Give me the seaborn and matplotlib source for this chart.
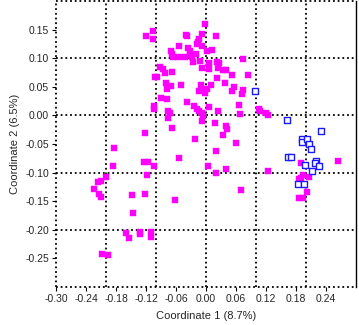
import numpy as np
import pandas as pd
import matplotlib
matplotlib.use("Agg")
import matplotlib.pyplot as plt
import seaborn as sns

# Group 1 (filled magenta squares)
x_pink = [-0.120, -0.106, -0.106, -0.092, -0.086, -0.082, -0.068, -0.102, -0.098, -0.080,
          -0.070, -0.078, -0.050, -0.090, -0.078, -0.104, -0.104, -0.076, -0.072, -0.076,
          -0.068, -0.122, -0.184, -0.054, -0.038, -0.070, -0.068, -0.066, -0.054, -0.054,
          -0.042, -0.040, -0.038, -0.036, -0.032, -0.032, -0.028, -0.026, -0.018, -0.020,
          -0.014, -0.016, -0.008, -0.008, -0.002, -0.012, 0.002, 0.006, 0.012, 0.020,
          0.022, 0.026, 0.074, -0.008, 0.006, 0.024, 0.034, 0.040, 0.052, 0.084,
          0.022, 0.038, 0.010, 0.002, -0.004, -0.010, -0.002, -0.014, 0.056, 0.052,
          0.074, 0.072, 0.006, 0.066, 0.024, 0.068, 0.106, 0.108, 0.120, 0.124,
          -0.024, -0.018, -0.014, -0.008, -0.006, -0.008, 0.018, 0.040, 0.042, 0.034,
          -0.022, 0.060, 0.020, -0.186, -0.124, -0.116, -0.104, -0.118, -0.200, -0.210,
          -0.216, -0.224, -0.214, -0.210, -0.148, -0.122, -0.062, -0.146, -0.160, -0.154,
          -0.132, -0.132, -0.110, -0.110, -0.208, -0.196, 0.004, 0.020, 0.040, 0.124,
          0.070, 0.190, 0.264, 0.194, 0.206, 0.186, 0.190, 0.202, 0.186, 0.194]
y_pink = [0.138, 0.147, 0.133, 0.085, 0.081, 0.074, 0.076, 0.067, 0.067, 0.056,
          0.051, 0.046, 0.053, 0.031, 0.028, 0.017, 0.012, 0.008, 0.005, -0.004,
          -0.022, -0.031, -0.057, -0.075, 0.024, 0.113, 0.108, 0.102, 0.122, 0.102,
          0.102, 0.140, 0.138, 0.117, 0.113, 0.106, 0.102, 0.094, 0.124, 0.108,
          0.134, 0.129, 0.142, 0.122, 0.159, 0.095, 0.113, 0.092, 0.115, 0.138,
          0.094, 0.092, 0.099, 0.083, 0.081, 0.083, 0.079, 0.079, 0.071, 0.071,
          0.065, 0.056, 0.053, 0.047, 0.046, 0.053, 0.039, 0.042, 0.049, 0.042,
          0.044, 0.037, 0.014, 0.019, 0.008, 0.003, 0.012, 0.007, 0.005, 0.001,
          0.017, 0.012, 0.008, 0.005, -0.001, -0.009, -0.013, -0.018, -0.024, -0.034,
          -0.041, -0.048, -0.063, -0.088, -0.082, -0.082, -0.088, -0.105, -0.107, -0.114,
          -0.116, -0.128, -0.137, -0.143, -0.139, -0.137, -0.148, -0.171, -0.205, -0.215,
          -0.203, -0.208, -0.203, -0.212, -0.242, -0.244, -0.088, -0.100, -0.093, -0.098,
          -0.130, -0.084, -0.079, -0.104, -0.107, -0.112, -0.109, -0.134, -0.144, -0.144]

# Group 2 (open blue squares)
x_blue = [0.098, 0.162, 0.230, 0.192, 0.192, 0.202, 0.206, 0.210, 0.164, 0.170,
          0.220, 0.218, 0.226, 0.198, 0.212, 0.184, 0.196]
y_blue = [0.042, -0.008, -0.027, -0.041, -0.047, -0.041, -0.050, -0.059, -0.073, -0.072,
          -0.079, -0.084, -0.088, -0.086, -0.098, -0.120, -0.120]

x_ticks = [-0.30, -0.24, -0.18, -0.12, -0.06, 0.00, 0.06, 0.12, 0.18, 0.24]
y_ticks = [-0.25, -0.20, -0.15, -0.10, -0.05, 0.00, 0.05, 0.10, 0.15]
grid_x = [-0.3, -0.2, -0.1, 0.0, 0.1, 0.2]
grid_y = [-0.3, -0.2, -0.1, 0.0, 0.1, 0.2]

df_pink = pd.DataFrame({"x": x_pink, "y": y_pink})
df_blue = pd.DataFrame({"x": x_blue, "y": y_blue})

sns.set_style("white")
plt.rcParams['font.family'] = ['Liberation Sans', 'DejaVu Sans']

fig = plt.figure(figsize=(3.59, 3.25), dpi=100)
ax = fig.add_axes([56/359, 38/325, 300/359, 286/325])

# dotted grid (edges included, so not clipped)
for gx in grid_x:
    ax.axvline(gx, color='black', lw=1.3, ls=(0, (1, 1.6)), zorder=1, clip_on=False)
for gy in grid_y:
    ax.axhline(gy, color='black', lw=1.3, ls=(0, (1, 1.6)), zorder=1, clip_on=False)

sns.scatterplot(data=df_pink, x="x", y="y", marker='s', s=16, color='#ff00ff',
                edgecolor='#ff00ff', linewidth=0.3, ax=ax, zorder=3)
sns.scatterplot(data=df_blue, x="x", y="y", marker='s', s=18, facecolor='white',
                edgecolor='#1a1aff', linewidth=1.0, ax=ax, zorder=4)

ax.set_xlim(-0.30, 0.30)
ax.set_ylim(-0.30, 0.20)
ax.set_xticks(x_ticks)
ax.set_xticklabels([f"{v:.2f}" for v in x_ticks])
ax.set_yticks(y_ticks)
ax.set_yticklabels([f"{v:.2f}" for v in y_ticks])
ax.tick_params(axis='both', direction='out', length=3, width=0.8, color='black',
               labelsize=7.5, pad=2, bottom=True, left=True)

for side in ['left', 'top', 'bottom']:
    ax.spines[side].set_visible(False)
ax.spines['right'].set_color('black')
ax.spines['right'].set_linewidth(1.0)

ax.set_xlabel("Coordinate 1 (8.7%)", fontsize=8, labelpad=5)
ax.set_ylabel("Coordinate 2 (6.5%)", fontsize=8, labelpad=4)

fig.savefig("out.png", dpi=100)
